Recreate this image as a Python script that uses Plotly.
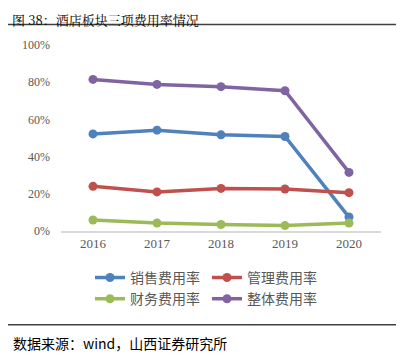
import plotly.graph_objects as go

years = ["2016", "2017", "2018", "2019", "2020"]
sales = [0.522, 0.542, 0.517, 0.508, 0.075]
mgmt = [0.240, 0.210, 0.229, 0.226, 0.206]
fin = [0.059, 0.043, 0.035, 0.029, 0.043]
total = [0.815, 0.788, 0.776, 0.754, 0.315]
names = ["销售费用率", "管理费用率", "财务费用率", "整体费用率"]
colors = ["#4f81bd", "#c0504d", "#9bbb59", "#8064a2"]
yticks = [0, 0.2, 0.4, 0.6, 0.8, 1.0]

W, H = 404, 364
OFF = 8  # page body margin
L, R, T, B = 61 - OFF, 381 - OFF, 44.5 - OFF, 231 - OFF

def px(x):  # page x -> paper
    return (x - OFF - L) / (R - L)

def py(y):  # page y -> paper
    return (B - (y - OFF)) / (B - T)

fig = go.Figure()
for name, vals, col in zip(names, [sales, mgmt, fin, total], colors):
    fig.add_trace(go.Scatter(
        x=years, y=vals, name=name, mode="lines+markers",
        line=dict(color=col, width=3.5),
        marker=dict(color=col, size=9),
    ))

fig.update_layout(
    width=W, height=H,
    margin=dict(l=L, r=W - R, t=T, b=H - B),
    paper_bgcolor="white", plot_bgcolor="white",
    showlegend=True,
    legend=dict(
        orientation="h", x=px(90), y=py(262), xanchor="left", yanchor="top",
        font=dict(family="Noto Sans CJK SC", size=14, color="#595959"),
        entrywidth=72, entrywidthmode="pixels",
        tracegroupgap=0, itemwidth=30,
        bgcolor="rgba(0,0,0,0)",
    ),
    xaxis=dict(
        type="category", range=[-0.5, 4.5], showgrid=False,
        showline=True, linecolor="#d9d9d9", linewidth=1.5,
        ticks="", tickfont=dict(family="Liberation Serif", size=13, color="#595959"),
    ),
    yaxis=dict(
        range=[0, 1.0], tickvals=yticks, tickformat=".0%", showgrid=False,
        zeroline=False, showline=False, ticks="", ticklabelstandoff=10,
        tickfont=dict(family="Liberation Serif", size=12, color="#595959"),
    ),
)

fig.add_annotation(
    text="图 38：酒店板块三项费用率情况", xref="paper", yref="paper",
    x=px(11), y=py(8.5), xanchor="left", yanchor="top", showarrow=False,
    borderpad=0,
    font=dict(family="Noto Serif CJK SC, Noto Sans CJK SC", size=13, color="#000000"),
)
fig.add_annotation(
    text="数据来源：wind，山西证券研究所", xref="paper", yref="paper",
    x=px(11), y=py(343), xanchor="left", yanchor="middle", showarrow=False,
    font=dict(family="Noto Sans CJK SC", size=14, color="#000000"),
)
fig.add_shape(type="line", xref="paper", yref="paper",
              x0=px(3), x1=px(402), y0=py(24), y1=py(24),
              line=dict(color="#404040", width=1.5))
fig.add_shape(type="line", xref="paper", yref="paper",
              x0=px(3), x1=px(402), y0=py(325), y1=py(325),
              line=dict(color="#404040", width=1.5))

fig.write_html("out.html")
